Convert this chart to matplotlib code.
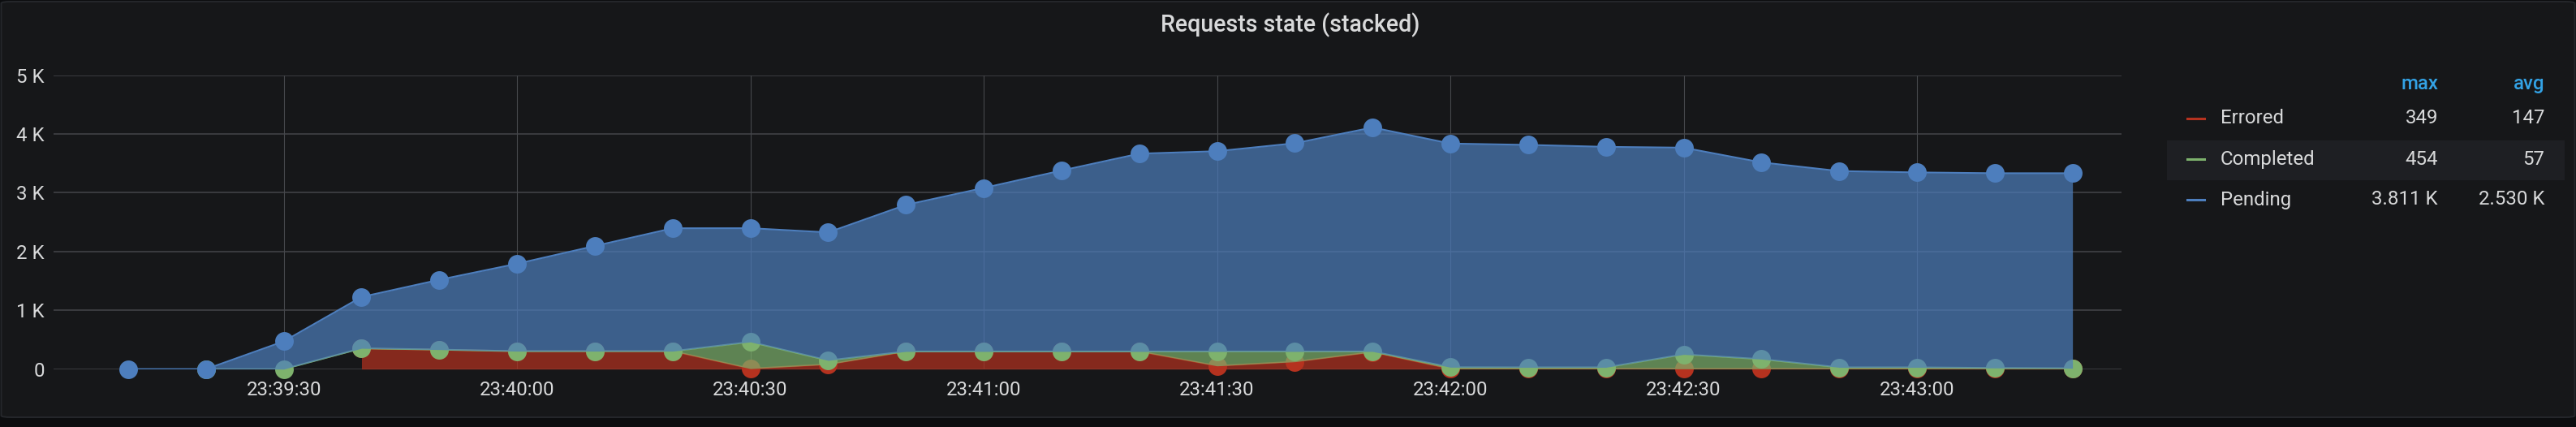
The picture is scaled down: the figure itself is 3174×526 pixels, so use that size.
import matplotlib
matplotlib.use("Agg")
import matplotlib.pyplot as plt
import matplotlib.dates as mdates
from matplotlib.lines import Line2D
from matplotlib.patches import FancyBboxPatch, Rectangle
import numpy as np
import pandas as pd

## Data (one sample every 10 s)
times = ["23:39:10", "23:39:20", "23:39:30", "23:39:40", "23:39:50", "23:40:00",
         "23:40:10", "23:40:20", "23:40:30", "23:40:40", "23:40:50", "23:41:00",
         "23:41:10", "23:41:20", "23:41:30", "23:41:40", "23:41:50", "23:42:00",
         "23:42:10", "23:42:20", "23:42:30", "23:42:40", "23:42:50", "23:43:00",
         "23:43:10", "23:43:20"]
nan = np.nan
errored = [nan, nan, nan, 349, 330, 305, 305, 305, 8, 80, 300, 300, 300, 300,
           55, 125, 290, 5, 5, 5, 5, 5, 5, 5, 5, 5]
completed = [nan, 0, 0, 5, 2, 0, 0, 0, 454, 68, 0, 0, 0, 0,
             245, 175, 10, 27, 25, 25, 245, 165, 25, 25, 15, 10]
pending = [0, 0, 473, 874, 1188, 1488, 1790, 2091, 1935, 2178, 2494, 2782, 3078,
           3365, 3407, 3542, 3811, 3805, 3784, 3751, 3517, 3347, 3339, 3316, 3312, 3317]

series_names = ["Errored", "Completed", "Pending"]
series_colors = ["#b5321f", "#7eb26d", "#4d7ebd"]
legend_max = ["349", "454", "3.811 K"]
legend_avg = ["147", "57", "2.530 K"]

yticks = [0, 1000, 2000, 3000, 4000, 5000]
ytick_labels = ["0", "1 K", "2 K", "3 K", "4 K", "5 K"]

## Style
W, H = 3174, 526
page_bg = "#0c0d0f"
panel_bg = "#161719"
text_col = "#d8d9da"
fill_alpha = 0.7

fig = plt.figure(figsize=(W / 100, H / 100), dpi=100, facecolor=page_bg)
plt.rcParams["font.family"] = ["Roboto", "DejaVu Sans"]

# panel box
panel = FancyBboxPatch((1.5 / W, 12 / H), (W - 3) / W, (H - 14) / H,
                       boxstyle="round,pad=0,rounding_size=0.004",
                       transform=fig.transFigure, facecolor=panel_bg,
                       edgecolor="#25272b", linewidth=1.4, zorder=-10)
fig.patches.append(panel)

ax = fig.add_axes([66 / W, 1 - 454.7 / H, (2614 - 66) / W, (454.7 - 92.6) / H])
ax.set_facecolor(panel_bg)
ax.patch.set_alpha(0)

x = pd.to_datetime(["2021-01-01 " + t for t in times])
err = np.array(errored, dtype=float)
comp = np.array(completed, dtype=float)
pend = np.array(pending, dtype=float)

# stacking: errored -> completed -> pending
base_err = np.zeros(len(x))
top_err = err
base_comp = np.nan_to_num(err)
top_comp = base_comp + comp
base_pend = base_comp + np.nan_to_num(comp)
top_pend = base_pend + pend

stack = [(base_err, top_err), (base_comp, top_comp), (base_pend, top_pend)]
for i, ((lo, hi), col) in enumerate(zip(stack, series_colors)):
    z = 2 + i
    ax.fill_between(x, lo, hi, color=col, alpha=fill_alpha, linewidth=0, zorder=z)
    ax.plot(x, hi, color=col, linewidth=1.5, zorder=z + 0.1)
    ax.plot(x, hi, linestyle="none", marker="o", markersize=16.5,
            markerfacecolor=col, markeredgewidth=0, zorder=z + 0.2, clip_on=False)

ax.set_ylim(0, 5000)
ax.set_xlim(pd.Timestamp("2021-01-01 23:39:00.4"), pd.Timestamp("2021-01-01 23:43:26.3"))
ax.set_yticks(yticks)
ax.set_yticklabels(ytick_labels)
ax.xaxis.set_major_locator(mdates.SecondLocator(bysecond=[0, 30]))
ax.xaxis.set_major_formatter(mdates.DateFormatter("%H:%M:%S"))

ax.tick_params(axis="both", length=0, labelsize=17.3, colors=text_col)
ax.tick_params(axis="y", pad=8)
ax.tick_params(axis="x", pad=10)
for s in ax.spines.values():
    s.set_visible(False)

ax.grid(False)
for yt in yticks:
    ax.axhline(yt, color="#3a3c40", linewidth=1.4, zorder=0)
ax.xaxis.grid(True, color="#46484c", linewidth=0.8, zorder=0)
ax.set_axisbelow(True)

# title
fig.text(1590 / W, 1 - 31 / H, "Requests state (stacked)", ha="center", va="center",
         fontsize=20.6, fontweight="medium", color=text_col)

## Legend (table style)
fig.text(3004 / W, 1 - 103 / H, "max", ha="right", va="center", fontsize=17.3,
         fontweight="medium", color="#33a2e5")
fig.text(3135 / W, 1 - 103 / H, "avg", ha="right", va="center", fontsize=17.3,
         fontweight="medium", color="#33a2e5")

row_y = [146, 196, 246]
fig.patches.append(Rectangle((2670 / W, 1 - 221.5 / H), (3160 - 2670) / W, 49 / H,
                             transform=fig.transFigure, facecolor="#1e1f23",
                             edgecolor="none", zorder=-5))
for name, col, mx, av, ry in zip(series_names, series_colors, legend_max, legend_avg, row_y):
    yy = 1 - ry / H
    fig.add_artist(Line2D([2695 / W, 2716 / W], [yy, yy], color=col, linewidth=2.2,
                          transform=fig.transFigure))
    fig.text(2736 / W, yy, name, ha="left", va="center", fontsize=17.3, color=text_col)
    fig.text(3004 / W, yy, mx, ha="right", va="center", fontsize=17.3, color=text_col)
    fig.text(3135 / W, yy, av, ha="right", va="center", fontsize=17.3, color=text_col)

fig.savefig("out.png", dpi=100, facecolor=page_bg)
